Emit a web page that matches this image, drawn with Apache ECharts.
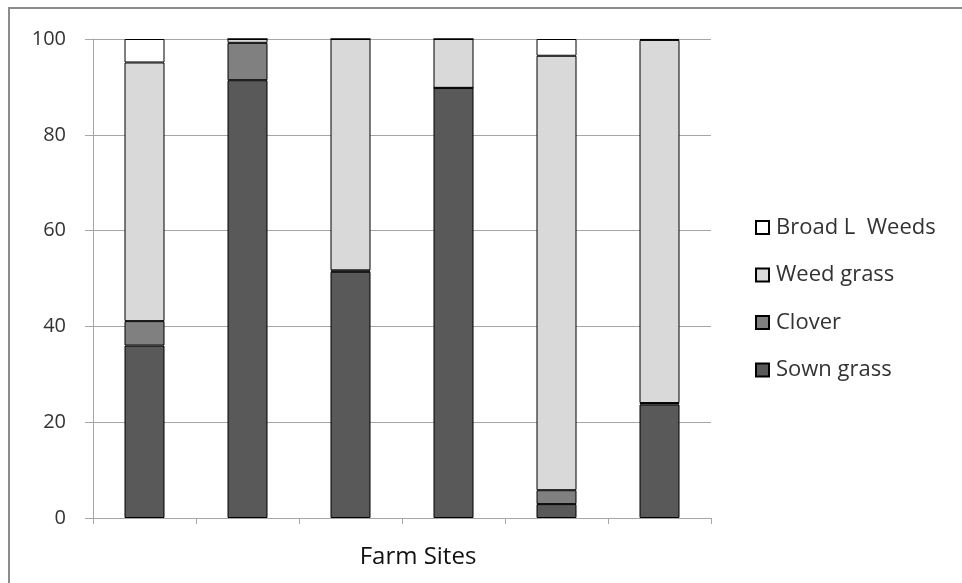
<!DOCTYPE html>
<html>
<head>
<meta charset="utf-8">
<title>Farm Sites</title>
<script src="https://cdn.jsdelivr.net/npm/echarts@6/dist/echarts.min.js"></script>
<style>
  html, body { margin: 0; padding: 0; background: #fff; }
  #chart { width: 962px; height: 583px; }
</style>
</head>
<body>
<div id="chart"></div>
<script>
// Ground cover composition (%) at each farm site
const sites = ['Site 1', 'Site 2', 'Site 3', 'Site 4', 'Site 5', 'Site 6'];
const sownGrass  = [36.0, 91.4, 51.4, 89.8, 2.9, 23.7];
const clover     = [5.1, 7.8, 0.3, 0.0, 2.9, 0.3];
const weedGrass  = [54.0, 0.8, 48.3, 10.2, 90.7, 75.8];
const broadLeaf  = [4.9, 0.0, 0.0, 0.0, 3.5, 0.2];
const yTicks = [0, 20, 40, 60, 80, 100];

const FONT = '"Open Sans", "Liberation Sans", sans-serif';
const AXIS_GREY = '#a6a6a6';

const layers = [
  { name: 'Sown grass',     data: sownGrass, color: '#595959' },
  { name: 'Clover',         data: clover,    color: '#808080' },
  { name: 'Weed grass',     data: weedGrass, color: '#d9d9d9' },
  { name: 'Broad L  Weeds', data: broadLeaf, color: '#ffffff' }
];

const chart = echarts.init(document.getElementById('chart'), null, { renderer: 'canvas' });

chart.setOption({
  animation: false,
  backgroundColor: '#fff',
  graphic: [{
    type: 'rect',
    shape: { x: 9, y: 8, width: 1000, height: 700 },
    style: { fill: 'none', stroke: '#8c8c8c', lineWidth: 2 },
    silent: true
  }],
  grid: { left: 93, right: 251, top: 39, bottom: 65 },
  legend: {
    orient: 'vertical',
    left: 750,
    top: 210,
    itemWidth: 13,
    itemHeight: 13,
    itemGap: 22.5,
    icon: 'rect',
    data: layers.map(l => l.name).reverse(),
    textStyle: { fontFamily: FONT, fontSize: 22, color: '#333', lineHeight: 25, padding: [0, 0, 0, 2] }
  },
  xAxis: {
    type: 'category',
    data: sites,
    name: 'Farm Sites',
    nameLocation: 'middle',
    nameGap: 27,
    nameTextStyle: { fontFamily: FONT, fontSize: 24, color: '#111', padding: [0, 0, 0, 32] },
    axisLine: { show: true, lineStyle: { color: AXIS_GREY, width: 1 } },
    axisTick: { show: true, length: 6, lineStyle: { color: AXIS_GREY } },
    axisLabel: { show: false }
  },
  yAxis: {
    type: 'value',
    min: yTicks[0],
    max: yTicks[yTicks.length - 1],
    interval: yTicks[1] - yTicks[0],
    axisLine: { show: true, lineStyle: { color: AXIS_GREY, width: 1 } },
    axisTick: { show: true, length: 8, lineStyle: { color: AXIS_GREY } },
    splitLine: { show: true, lineStyle: { color: AXIS_GREY, width: 1 } },
    axisLabel: { margin: 27, fontFamily: FONT, fontSize: 20, color: '#333' }
  },
  series: layers.map(l => ({
    name: l.name,
    type: 'bar',
    stack: 'cover',
    barWidth: 40,
    data: l.data,
    itemStyle: { color: l.color, borderColor: '#000', borderWidth: 1 },
    emphasis: { disabled: true }
  }))
});
</script>
</body>
</html>
